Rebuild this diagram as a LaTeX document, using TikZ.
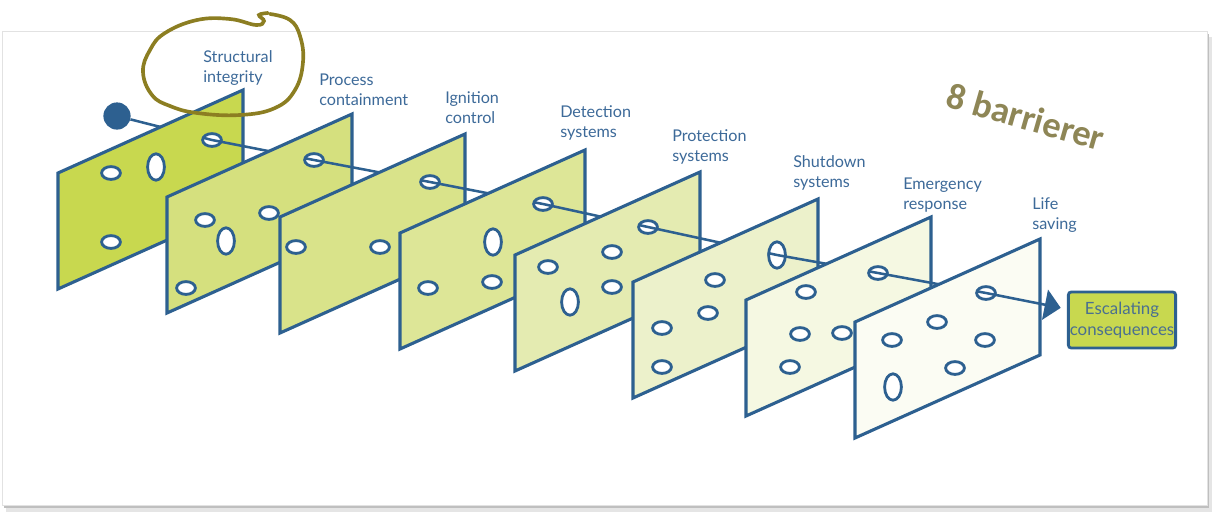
\documentclass[tikz,border=0pt]{standalone}
\usepackage{fontspec}
\setmainfont{Lato}
\newfontfamily\notefont{Carlito}
\usepackage{tikz}
\usetikzlibrary{arrows.meta,calc,shapes.geometric}
\definecolor{barblue}{HTML}{2D6090}
\definecolor{labeltext}{HTML}{3D6A99}
\definecolor{boxtext}{HTML}{4A6F90}
\definecolor{bar1}{HTML}{C8D84F}
\definecolor{bar2}{HTML}{D5E07E}
\definecolor{bar3}{HTML}{D9E38A}
\definecolor{bar4}{HTML}{DDE697}
\definecolor{bar5}{HTML}{E4EBB1}
\definecolor{bar6}{HTML}{ECF1CB}
\definecolor{bar7}{HTML}{F5F8E2}
\definecolor{bar8}{HTML}{FBFCF3}
\definecolor{marker}{HTML}{8C7E22}
\definecolor{note}{HTML}{8E8656}
\definecolor{frameline}{HTML}{E2E2E2}

\begin{document}
\begin{tikzpicture}[
  x=0.025cm, y=-0.025cm,
  font=\fontsize{11.5}{14.2}\selectfont,
  panel/.style={draw=barblue,line width=2.2pt,line join=miter},
  hole/.style={ellipse,draw=barblue,fill=white,line width=2pt,minimum width=0.47cm,minimum height=0.32cm,inner sep=0pt},
  vhole/.style={hole,minimum width=0.42cm,minimum height=0.66cm},
  barlabel/.style={anchor=west,align=left,inner sep=0pt,text=labeltext},
  thread/.style={draw=barblue,line width=1.8pt},
]
\useasboundingbox (0,0) rectangle (1212,514);
% page with its shadow
\fill[black!10] (6,37) rectangle (1212,512);
\fill[black!25] (4,34) rectangle (1209,508);
\filldraw[fill=white,draw=frameline] (2,31) rectangle (1207,505);

% where the thread passes through each barrier
\coordinate (h1) at (212,140);
\coordinate (h2) at (314,160);
\coordinate (h3) at (430,182);
\coordinate (h4) at (543,204);
\coordinate (h5) at (648,227);
\coordinate (h6) at (777,255);
\coordinate (h7) at (878,273);
\coordinate (h8) at (986,293);

\node[circle,fill=barblue,minimum size=0.68cm,inner sep=0pt] (dot) at (117,116) {};
\draw[thread] (dot) -- (h1);

% barrier 1
\filldraw[panel,fill=bar1] (58,173) -- ++(185,-83) -- ++(0,116) -- ++(-185,83) -- cycle;
\node[hole] (p1a) at (111,173) {};
\node[vhole] (p1b) at (156,167) {};
\node[hole] (p1c) at (111,242) {};
\node[hole] (t1) at (h1) {};
\draw[thread] ($(h1)!0.24cm!(dot)$) -- (h1) -- (h2);

% barrier 2
\filldraw[panel,fill=bar2] (167,197) -- ++(185,-83) -- ++(0,116) -- ++(-185,83) -- cycle;
\node[hole] (p2a) at (205,220) {};
\node[vhole] (p2b) at (226,241) {};
\node[hole] (p2c) at (269,213) {};
\node[hole] (p2d) at (186,288) {};
\node[hole] (t2) at (h2) {};
\draw[thread] ($(h2)!0.24cm!(h1)$) -- (h2) -- (h3);

% barrier 3
\filldraw[panel,fill=bar3] (280,217) -- ++(185,-83) -- ++(0,116) -- ++(-185,83) -- cycle;
\node[hole] (p3a) at (296,247) {};
\node[hole] (p3b) at (380,247) {};
\node[hole] (t3) at (h3) {};
\draw[thread] ($(h3)!0.24cm!(h2)$) -- (h3) -- (h4);

% barrier 4
\filldraw[panel,fill=bar4] (400,233) -- ++(185,-83) -- ++(0,116) -- ++(-185,83) -- cycle;
\node[vhole] (p4a) at (493,242) {};
\node[hole] (p4b) at (428,288) {};
\node[hole] (p4c) at (492,282) {};
\node[hole] (t4) at (h4) {};
\draw[thread] ($(h4)!0.24cm!(h3)$) -- (h4) -- (h5);

% barrier 5
\filldraw[panel,fill=bar5] (515,255) -- ++(185,-83) -- ++(0,116) -- ++(-185,83) -- cycle;
\node[hole] (p5a) at (548,267) {};
\node[hole] (p5b) at (612,252) {};
\node[vhole] (p5c) at (570,302) {};
\node[hole] (p5d) at (612,287) {};
\node[hole] (t5) at (h5) {};
\draw[thread] ($(h5)!0.24cm!(h4)$) -- (h5) -- (h6);

% barrier 6
\filldraw[panel,fill=bar6] (633,282) -- ++(185,-83) -- ++(0,116) -- ++(-185,83) -- cycle;
\node[hole] (p6a) at (715,280) {};
\node[hole] (p6b) at (708,313) {};
\node[hole] (p6c) at (662,328) {};
\node[hole] (p6d) at (662,367) {};
\node[vhole] (t6) at (h6) {};
\draw[thread] ($(h6)!0.24cm!(h5)$) -- (h6) -- (h7);

% barrier 7
\filldraw[panel,fill=bar7] (746,300) -- ++(185,-83) -- ++(0,116) -- ++(-185,83) -- cycle;
\node[hole] (p7a) at (806,292) {};
\node[hole] (p7b) at (800,334) {};
\node[hole] (p7c) at (842,333) {};
\node[hole] (p7d) at (790,367) {};
\node[hole] (t7) at (h7) {};
\draw[thread] ($(h7)!0.24cm!(h6)$) -- (h7) -- (h8);

% barrier 8
\filldraw[panel,fill=bar8] (855,322) -- ++(185,-83) -- ++(0,116) -- ++(-185,83) -- cycle;
\node[hole] (p8a) at (937,322) {};
\node[hole] (p8b) at (892,340) {};
\node[hole] (p8c) at (985,340) {};
\node[hole] (p8d) at (955,368) {};
\node[vhole] (p8e) at (893,387) {};
\node[hole] (t8) at (h8) {};

\node[draw=barblue,fill=bar1,line width=2pt,rounded corners=2pt,minimum width=2.65cm,minimum height=1.4cm,
  align=center,text=boxtext,inner sep=1pt,font=\fontsize{12}{14.6}\selectfont] (escal) at (1122,320) {Escalating\\consequences};
\draw[thread,-{Triangle[length=0.4cm,width=0.76cm]},shorten >=0.16cm] ($(h8)!0.24cm!(h7)$) -- (h8) -- (escal);

\node[barlabel] (l1) at (203,68) {Structural\\integrity};
\node[barlabel] (l2) at (319,90) {Process\\containment};
\node[barlabel] (l3) at (445,108) {Ignition\\control};
\node[barlabel] (l4) at (560,123) {Detection\\systems};
\node[barlabel] (l5) at (672,147) {Protection\\systems};
\node[barlabel] (l6) at (793,173) {Shutdown\\systems};
\node[barlabel] (l7) at (903,195) {Emergency\\response};
\node[barlabel] (l8) at (1032,215) {Life\\saving};

\node[rotate=-16,text=note,font=\notefont\bfseries\fontsize{26}{30}\selectfont] (count) at (1026,117) {8 barrierer};

% hand-drawn ring round the first label
\draw[marker,line width=2.6pt,line cap=round] plot[smooth,tension=0.7] coordinates {
  (270,14) (290,20) (300,36) (303,62) (295,90) (275,108) (240,115) (197,113) (170,106) (152,95)
  (143,72) (150,50) (165,33) (197,20) (230,19) (256,25) (264,21) (259,15) (268,13)};
\end{tikzpicture}
\end{document}
